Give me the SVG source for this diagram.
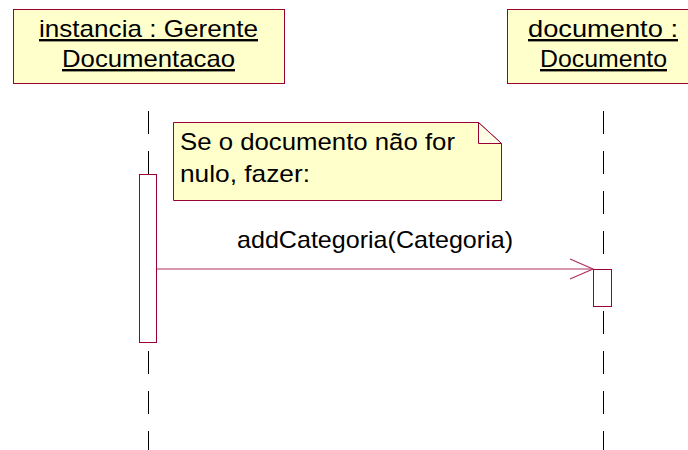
<svg xmlns="http://www.w3.org/2000/svg" width="688" height="450" viewBox="0 0 688 450">
<style>
.box{fill:#FFFFCC;stroke:#990033;stroke-width:1}
.act{fill:#FFFFFF;stroke:#990033;stroke-width:1}
.life{stroke:#000000;stroke-width:1;stroke-dasharray:23 17}
.t{font-family:"Liberation Sans",Arial,sans-serif;font-size:24px;fill:#000000}
.u{text-decoration:underline}
.msg{stroke:#B03060;stroke-width:1.2;fill:none}
</style>
<g id="lifelines">
<line class="life" x1="148.5" y1="111" x2="148.5" y2="450"/>
<line class="life" x1="603.5" y1="111" x2="603.5" y2="450"/>
</g>
<g id="instancia">
<rect class="box" x="13.5" y="9.5" width="271" height="74"/>
<text class="t u" x="39" y="37" textLength="219" lengthAdjust="spacingAndGlyphs">instancia : Gerente</text>
<text class="t u" x="62" y="67" textLength="173" lengthAdjust="spacingAndGlyphs">Documentacao</text>
</g>
<g id="documento">
<rect class="box" x="507.5" y="9.5" width="190" height="74"/>
<text class="t u" x="528" y="37" textLength="150" lengthAdjust="spacingAndGlyphs">documento : </text>
<text class="t u" x="540" y="67" textLength="127" lengthAdjust="spacingAndGlyphs">Documento</text>
</g>
<g id="activation-instancia">
<rect class="act" x="139.5" y="174.5" width="17" height="168"/>
</g>
<g id="activation-documento">
<rect class="act" x="593.5" y="269.5" width="18" height="37"/>
</g>
<g id="note">
<polygon class="box" points="173.5,122.5 478.5,122.5 501.5,143.5 501.5,200.5 173.5,200.5"/>
<polygon points="478.5,122.5 478.5,143.5 501.5,143.5" fill="#FFFFE8" stroke="#990033" stroke-width="1"/>
<text class="t" x="180" y="150" textLength="275" lengthAdjust="spacingAndGlyphs">Se o documento não for</text>
<text class="t" x="180" y="182" textLength="130" lengthAdjust="spacingAndGlyphs">nulo, fazer:</text>
</g>
<g id="connectors">
<line class="msg" x1="157" y1="269" x2="593" y2="269"/>
<polyline class="msg" points="570,259 593,269 570,279" stroke="#990033"/>
<text class="t" x="237" y="248" textLength="276" lengthAdjust="spacingAndGlyphs">addCategoria(Categoria)</text>
</g>
</svg>
